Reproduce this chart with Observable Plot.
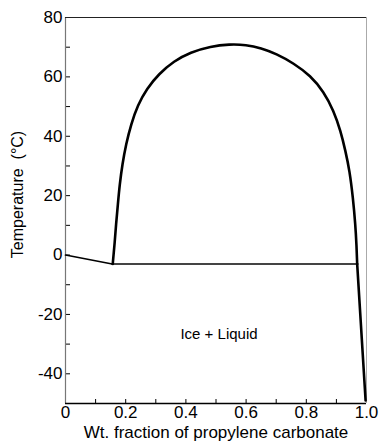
<!DOCTYPE html>
<html><head><meta charset="utf-8">
<script src="https://cdn.jsdelivr.net/npm/d3@7"></script>
<script src="https://cdn.jsdelivr.net/npm/@observablehq/plot@0.6"></script>
<style>body{margin:0;background:#fff}</style>
</head><body><div id="chart"></div>
<script>
// Liquid–liquid miscibility dome (wt. fraction, °C)
const domeX = [0.157, 0.160, 0.163, 0.168, 0.174, 0.180, 0.189, 0.201, 0.218, 0.240, 0.270, 0.310, 0.360, 0.415, 0.482, 0.545, 0.600, 0.650, 0.700, 0.758, 0.814, 0.858, 0.891, 0.914, 0.930, 0.944, 0.955, 0.963, 0.967, 0.969];
const domeT = [-3, 0.5, 3.6, 10.4, 17.1, 23.8, 30.6, 37.3, 44.1, 50.5, 56.0, 61.0, 65.3, 68.3, 70.3, 71.0, 70.8, 69.7, 67.8, 64.6, 60.4, 55.0, 48.6, 41.8, 35.1, 28.3, 19.3, 10.3, 3.0, -3];
// Ice liquidus
const iceX = [0, 0.155];
const iceT = [0, -3];
// Eutectic line
const eutecticX = [0.155, 0.969];
const eutecticT = [-3, -3];
// Propylene carbonate liquidus
const pcX = [0.969, 0.997];
const pcT = [-3, -49];
// Ticks
const yLabels = [-40, -20, 0, 20, 40, 60, 80];
const yAllTicks = [-40, -30, -20, -10, 0, 10, 20, 30, 40, 50, 60, 70];
const xLabels = [0, 0.2, 0.4, 0.6, 0.8, 1.0];
const xAllTicks = [0.1, 0.2, 0.3, 0.4, 0.5, 0.6, 0.7, 0.8, 0.9];
// Texts
const regionLabel = ["Ice + Liquid"];
const regionX = [0.51];
const regionT = [-26.5];
const xTitle = ["Wt. fraction of propylene carbonate"];
const yTitle = ["Temperature  (\u00B0C)"];

const toPts = (xs, ys) => xs.map((x, i) => ({x, y: ys[i]}));
const W = 379, H = 445, mL = 65, mR = 13, mT = 17, mB = 42;
const plotW = W - mL - mR, plotH = H - mT - mB;
const font = "Liberation Sans, Arial, sans-serif";

const chart = Plot.plot({
  width: W, height: H,
  marginLeft: mL, marginRight: mR, marginTop: mT, marginBottom: mB,
  style: {fontFamily: font, fontSize: "17px", color: "#000", background: "#fff"},
  x: {domain: [0, 1]},
  y: {domain: [-50, 80]},
  marks: [
    Plot.gridY(yAllTicks, {stroke: "#000", strokeOpacity: 1, strokeWidth: 1, insetRight: plotW - 5}),
    Plot.gridX(xAllTicks, {stroke: "#000", strokeOpacity: 1, strokeWidth: 1, insetTop: plotH - 4}),
    Plot.ruleX([0], {stroke: "#777", strokeWidth: 1.2}),
    Plot.ruleX([1], {stroke: "#aaa", strokeWidth: 1}),
    Plot.ruleY([80], {stroke: "#222", strokeWidth: 1.2}),
    Plot.ruleY([-50], {stroke: "#000", strokeWidth: 1.5}),
    Plot.axisY({ticks: yLabels, tickSize: 0, tickPadding: 3, fontSize: 17, label: null,
      tickFormat: d => String(d)}),
    Plot.axisX({ticks: xLabels, tickSize: 0, tickPadding: 2, fontSize: 17, label: null,
      tickFormat: d => d === 0 ? "0" : d.toFixed(1)}),
    Plot.line(toPts(eutecticX, eutecticT), {x: "x", y: "y", stroke: "#444", strokeWidth: 2}),
    Plot.line(toPts(iceX, iceT), {x: "x", y: "y", stroke: "#000", strokeWidth: 1.6}),
    Plot.line(toPts(domeX, domeT), {x: "x", y: "y", stroke: "#000", strokeWidth: 2.6, curve: "basis"}),
    Plot.line(toPts(pcX, pcT), {x: "x", y: "y", stroke: "#000", strokeWidth: 2.6}),
    Plot.text(regionLabel, {x: () => regionX[0], y: () => regionT[0], text: d => d, fontSize: 15}),
    Plot.text(xTitle, {frameAnchor: "bottom", dy: 34, text: d => d, fontSize: 17}),
    Plot.text(yTitle, {frameAnchor: "left", textAnchor: "middle", rotate: -90, dx: -48, dy: -16, text: d => d, fontSize: 16})
  ]
});
document.getElementById("chart").append(chart);
</script>
</body></html>
